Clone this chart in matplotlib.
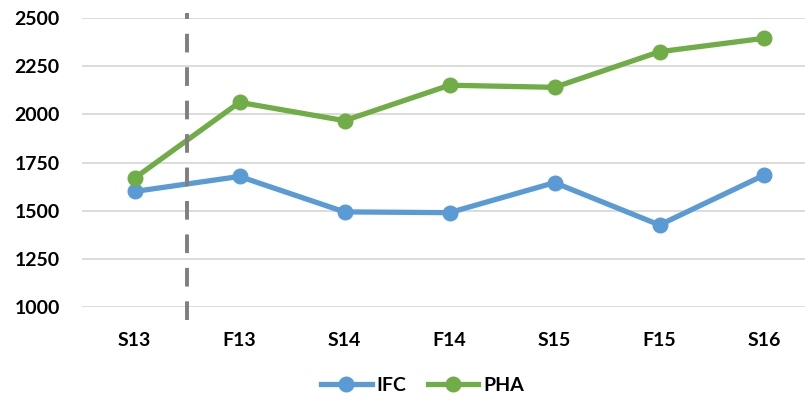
import matplotlib
matplotlib.use('Agg')
import matplotlib.pyplot as plt

# data
terms = ['S13', 'F13', 'S14', 'F14', 'S15', 'F15', 'S16']
ifc = [1600, 1678, 1494, 1490, 1646, 1426, 1686]
pha = [1669, 2063, 1968, 2152, 2141, 2326, 2396]
yticks = [1000, 1250, 1500, 1750, 2000, 2250, 2500]

plt.rcParams['font.family'] = ['Lato', 'DejaVu Sans']
plt.rcParams['font.weight'] = 'bold'

fig = plt.figure(figsize=(8.05, 4.05), dpi=100)
ax = fig.add_axes([0.1019, 0.242, 0.913, 0.713])

x = list(range(len(terms)))
ax.plot(x, ifc, color='#5B9BD5', lw=3.8, marker='o', ms=10.5, label='IFC', zorder=3)
ax.plot(x, pha, color='#70AD47', lw=3.8, marker='o', ms=10.5, label='PHA', zorder=3)

# dashed separator between S13 and F13
ax.plot([0.5, 0.5], [930, 2525], color='#7F7F7F', lw=2.8, dashes=(4.8, 3.8),
        clip_on=False, zorder=4)

ax.set_xlim(-0.5, len(terms) - 0.5)
ax.set_ylim(1000, 2500)
ax.set_xticks(x)
ax.set_xticklabels(terms)
ax.set_yticks(yticks)
ax.tick_params(axis='both', length=0, labelsize=14, colors='black')
ax.tick_params(axis='x', pad=18)
ax.tick_params(axis='y', pad=16)
ax.grid(axis='y', color='#D9D9D9', lw=1.3)
ax.set_axisbelow(True)
for s in ax.spines.values():
    s.set_visible(False)

fig.legend(loc='center', bbox_to_anchor=(0.525, 0.048), ncol=2, frameon=False,
           fontsize=14, handlelength=2.6, columnspacing=1.1, handletextpad=0.25)

fig.savefig('out.png', dpi=100)
